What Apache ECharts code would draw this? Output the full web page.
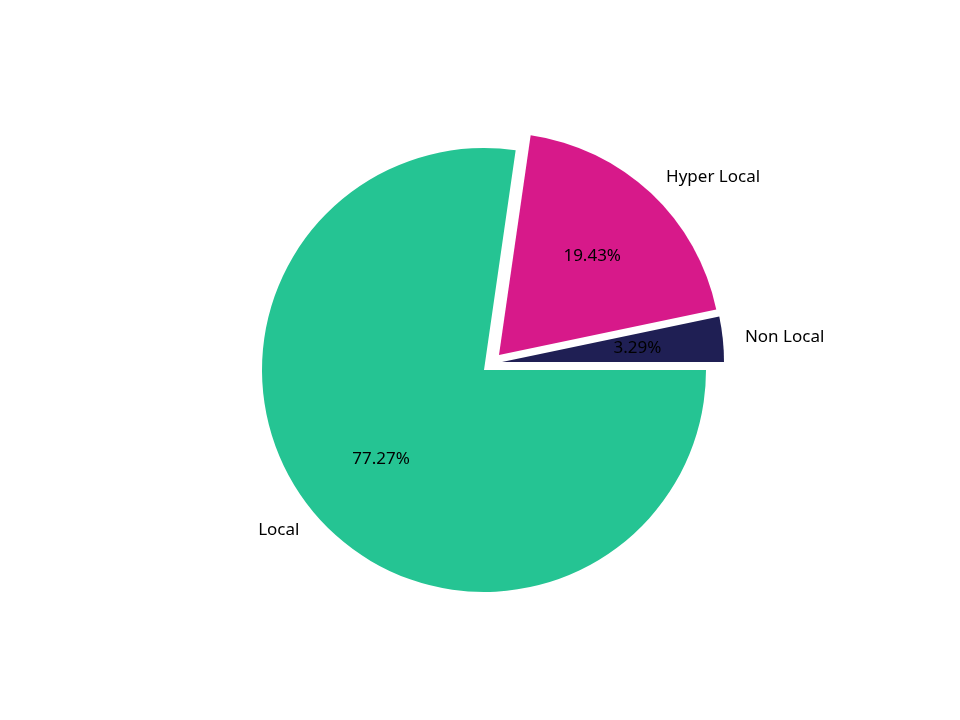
<!DOCTYPE html>
<html>
<head>
<meta charset="utf-8">
<script src="https://cdn.jsdelivr.net/npm/echarts@6/dist/echarts.min.js"></script>
<style>
  html, body { margin: 0; padding: 0; background: #fff; }
  #chart { width: 960px; height: 720px; }
</style>
</head>
<body>
<div id="chart"></div>
<script>
const labels = ['Non Local', 'Hyper Local', 'Local'];
const shares = [3.29, 19.43, 77.27];
const colors = ['#1f1f54', '#d7198a', '#25c493'];
// how far each wedge is pulled out of the pie (px, x right / y down)
const explode = [[18, -8], [15, -15], [0, 0]];

const chart = echarts.init(document.getElementById('chart'));
const cx = 484, cy = 370, R = 222;
const font = { fontFamily: 'Noto Sans', fontSize: 17, color: '#000' };

const series = [];
labels.forEach((name, i) => {
  const center = [cx + explode[i][0], cy + explode[i][1]];
  // the wedge itself, with its name outside at 1.1 r
  series.push({
    type: 'pie',
    center: center,
    radius: R,
    startAngle: 0,
    clockwise: false,
    silent: true,
    animation: false,
    avoidLabelOverlap: false,
    itemStyle: { borderWidth: 0 },
    label: Object.assign({ position: 'outside', formatter: '{b}', distanceToLabelLine: 0 }, font),
    labelLine: { show: false, length: R * 0.1, length2: 0 },
    emphasis: { disabled: true },
    data: labels.map((n, j) => ({
      name: n,
      value: shares[j],
      itemStyle: { color: j === i ? colors[j] : 'rgba(0,0,0,0)' },
      label: { show: j === i }
    }))
  });
  // invisible pie of 1.2 r so the inside label sits at 0.6 r
  series.push({
    type: 'pie',
    center: center,
    radius: R * 1.2,
    startAngle: 0,
    clockwise: false,
    silent: true,
    animation: false,
    avoidLabelOverlap: false,
    itemStyle: { borderWidth: 0, color: 'rgba(0,0,0,0)' },
    label: Object.assign({
      position: 'inside',
      formatter: p => p.value.toFixed(2) + '%'
    }, font),
    labelLine: { show: false },
    emphasis: { disabled: true },
    data: labels.map((n, j) => ({
      name: n,
      value: shares[j],
      label: { show: j === i }
    }))
  });
});

chart.setOption({
  backgroundColor: '#fff',
  series: series
});
</script>
</body>
</html>
